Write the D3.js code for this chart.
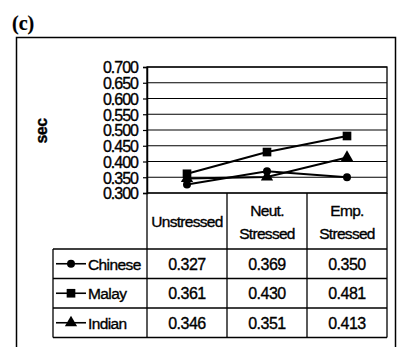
<!DOCTYPE html>
<html>
<head>
<meta charset="utf-8">
<script src="https://cdn.jsdelivr.net/npm/d3@7"></script>
<style>
  body { margin: 0; background: #fff; }
  svg text { font-family: "Liberation Sans", Arial, sans-serif; fill: #000; stroke: #000; stroke-width: 0.35px; }
</style>
</head>
<body>
<div id="chartParent"></div>
<script>
// data
const categories = ["Unstressed", "Neut. Stressed", "Emp. Stressed"];
const headerLines = [["Unstressed"], ["Neut.", "Stressed"], ["Emp.", "Stressed"]];
const seriesNames = ["Chinese", "Malay", "Indian"];
const chinese = [0.327, 0.369, 0.350];
const malay = [0.361, 0.430, 0.481];
const indian = [0.346, 0.351, 0.413];
const yTicks = [0.300, 0.350, 0.400, 0.450, 0.500, 0.550, 0.600, 0.650, 0.700];

const seriesValues = [chinese, malay, indian];
const markers = [d3.symbolCircle, d3.symbolSquare, d3.symbolTriangle];
const markerSize = [50, 75, 65];

const W = 399, H = 347;
// plot area
const plot = {left: 147, right: 387, top: 67, bottom: 193};
// table rows under the plot
const headerBottom = 249, rowH = 29.5;
const legendLeft = 53;

var svg = d3.select("#chartParent")
    .append("svg")
    .attr("width", W)
    .attr("height", H);

// outer frame
svg.append("rect")
  .attr("x", 16.5).attr("y", 37.5)
  .attr("width", 379).attr("height", 330)
  .attr("fill", "none").attr("stroke", "#000").attr("stroke-width", 1.5);

// panel label
svg.append("text")
  .attr("x", 12).attr("y", 30)
  .style("font-family", "'Liberation Serif', 'Times New Roman', serif")
  .style("font-weight", "bold")
  .style("font-size", "20px")
  .style("stroke-width", "0.2px")
  .text("(c)");

// axis title
svg.append("text")
  .attr("transform", "translate(47,131) rotate(-90)")
  .attr("text-anchor", "middle")
  .style("font-weight", "bold")
  .style("font-size", "16px")
  .style("letter-spacing", "-0.5px")
  .text("sec");

// scales
var x = d3.scaleBand()
  .domain(categories)
  .range([plot.left, plot.right]);

var y = d3.scaleLinear()
  .domain([0.3, 0.7])
  .range([plot.bottom, plot.top]);

// grid lines
svg.append("g")
  .selectAll("line")
  .data(yTicks)
  .enter()
  .append("line")
    .attr("x1", plot.left).attr("x2", plot.right)
    .attr("y1", d => y(d)).attr("y2", d => y(d))
    .attr("stroke", "#000").attr("stroke-width", 1.2);

// Y axis
var yAxis = svg.append("g")
  .attr("transform", `translate(${plot.left},0)`)
  .call(d3.axisLeft(y).tickValues(yTicks).tickFormat(d3.format(".3f")).tickSize(4).tickPadding(5));
yAxis.select(".domain").attr("stroke-width", 1.5);
yAxis.selectAll(".tick line").attr("stroke-width", 1.2);
yAxis.selectAll(".tick text")
  .attr("dy", "0.36em")
  .style("font-size", "16px")
  .style("letter-spacing", "-1px")
  .style("font-family", "'Liberation Sans', Arial, sans-serif");

// plot border
svg.append("rect")
  .attr("x", plot.left).attr("y", plot.top)
  .attr("width", plot.right - plot.left).attr("height", plot.bottom - plot.top)
  .attr("fill", "none").attr("stroke", "#000").attr("stroke-width", 1.3);

// series lines + markers
const line = d3.line()
  .x((d, i) => x(categories[i]) + x.bandwidth() / 2)
  .y(d => y(d));

seriesValues.forEach(function (vals, s) {
  svg.append("path")
    .datum(vals)
    .attr("fill", "none")
    .attr("stroke", "#000")
    .attr("stroke-width", 2)
    .attr("d", line);

  svg.append("g")
    .selectAll("path")
    .data(vals)
    .enter()
    .append("path")
      .attr("transform", (d, i) => `translate(${x(categories[i]) + x.bandwidth() / 2},${y(d)})`)
      .attr("d", d3.symbol().type(markers[s]).size(markerSize[s]))
      .attr("fill", "#000");
});

// data table
var table = svg.append("g");
const tableBottom = headerBottom + rowH * seriesNames.length;

// vertical lines between categories (from plot bottom down)
x.domain().forEach(function (c) {
  table.append("line")
    .attr("x1", x(c)).attr("x2", x(c))
    .attr("y1", plot.bottom).attr("y2", tableBottom)
    .attr("stroke", "#000").attr("stroke-width", 1.3);
});
table.append("line")
  .attr("x1", plot.right).attr("x2", plot.right)
  .attr("y1", plot.bottom).attr("y2", tableBottom)
  .attr("stroke", "#000").attr("stroke-width", 1.3);
table.append("line")
  .attr("x1", legendLeft).attr("x2", legendLeft)
  .attr("y1", headerBottom).attr("y2", tableBottom)
  .attr("stroke", "#000").attr("stroke-width", 1.3);

// horizontal row lines
d3.range(seriesNames.length + 1).forEach(function (r) {
  table.append("line")
    .attr("x1", legendLeft).attr("x2", plot.right)
    .attr("y1", headerBottom + r * rowH).attr("y2", headerBottom + r * rowH)
    .attr("stroke", "#000").attr("stroke-width", 1.3);
});

// header text
headerLines.forEach(function (lines, i) {
  const cx = x(categories[i]) + x.bandwidth() / 2;
  const cy = (plot.bottom + headerBottom) / 2;
  lines.forEach(function (t, j) {
    table.append("text")
      .attr("x", cx)
      .attr("y", cy + (j - (lines.length - 1) / 2) * 23 + 6)
      .attr("text-anchor", "middle")
      .style("font-size", "15.5px")
      .style("letter-spacing", "-0.7px")
      .text(t);
  });
});

// legend keys and values
seriesNames.forEach(function (name, s) {
  const cy = headerBottom + rowH * s + rowH / 2;
  table.append("line")
    .attr("x1", 56).attr("x2", 86)
    .attr("y1", cy).attr("y2", cy)
    .attr("stroke", "#000").attr("stroke-width", 1.6);
  table.append("path")
    .attr("transform", `translate(71,${cy})`)
    .attr("d", d3.symbol().type(markers[s]).size(markerSize[s]))
    .attr("fill", "#000");
  table.append("text")
    .attr("x", 88).attr("y", cy + 6)
    .style("font-size", "15.5px")
    .style("letter-spacing", "-0.6px")
    .text(name);

  seriesValues[s].forEach(function (v, i) {
    table.append("text")
      .attr("x", x(categories[i]) + x.bandwidth() / 2)
      .attr("y", cy + 6)
      .attr("text-anchor", "middle")
      .style("font-size", "16px")
      .style("letter-spacing", "-0.5px")
      .text(d3.format(".3f")(v));
  });
});
</script>
</body>
</html>
